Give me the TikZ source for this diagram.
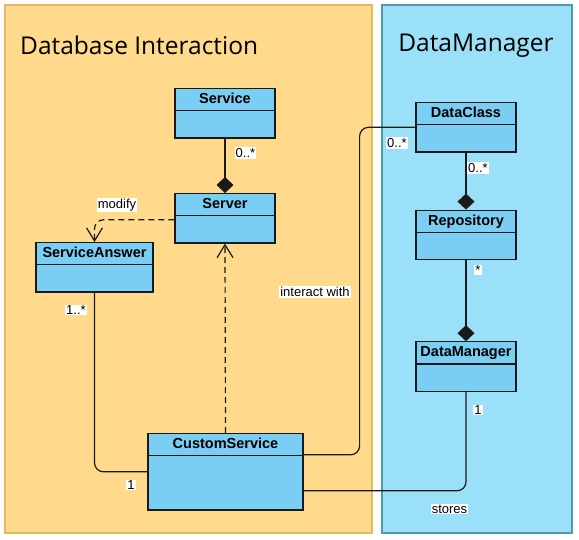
\documentclass[tikz,border=0pt]{standalone}
\usepackage{fontspec}
\setmainfont{Liberation Sans}
\newfontfamily\titlefont{Open Sans}
\usetikzlibrary{shapes.multipart,arrows.meta,positioning}

\definecolor{dbfill}{HTML}{FFD98C}
\definecolor{dbline}{HTML}{E3B95A}
\definecolor{dmfill}{HTML}{9AE0F8}
\definecolor{dmline}{HTML}{4D9AB5}
\definecolor{clsfill}{HTML}{7ACEF4}
\definecolor{clsline}{HTML}{1A1A1A}

\newcommand\clshead{\rule[-6.5pt]{0pt}{21pt}}
\newcommand\clsbody[1][26pt]{\rule{0pt}{#1}}

\begin{document}
\begin{tikzpicture}[x=1pt, y=-1pt,
  class/.style={rectangle split, rectangle split parts=2, draw=clsline,
    fill=clsfill, line width=1.2pt, inner xsep=0pt, inner ysep=0pt,
    text width=#1, align=center, anchor=north,
    font=\fontsize{14.5}{16}\selectfont\bfseries},
  mult/.style={fill=white, inner sep=1pt, font=\fontsize{13}{15}\selectfont},
  assoc/.style={draw=clsline, line width=1.2pt, rounded corners=9pt},
  comp/.style={assoc, {Diamond[length=16pt,width=17pt]}-},
  dep/.style={assoc, dash pattern=on 6pt off 4pt,
    -{Straight Barb[length=13pt,width=16pt]}}]

  \useasboundingbox (0,0) rectangle (579,540);

  % containers
  \draw[fill=dbfill, draw=dbline, line width=1.2pt] (5,5) rectangle (372,533);
  \draw[fill=dmfill, draw=dmline, line width=1.2pt] (382,5) rectangle (572,533);
  \node[anchor=base west, inner sep=0pt,
    font=\titlefont\fontsize{24.5}{28}\selectfont] (dbtitle) at (20,55) {Database Interaction};
  \node[anchor=base, inner sep=0pt,
    font=\titlefont\fontsize{24.5}{28}\selectfont] (dmtitle) at (476,52) {DataManager};

  % classes
  \node[class=100pt] (service) at (225,88) {\clshead Service\nodepart{two}\clsbody};
  \node[class=100pt] (server) at (225,193) {\clshead Server\nodepart{two}\clsbody};
  \node[class=117pt] (answer) at (94.5,242) {\clshead ServiceAnswer\nodepart{two}\clsbody};
  \node[class=155pt] (custom) at (225.5,433) {\clshead CustomService\nodepart{two}\clsbody[53pt]};

  \node[class=100pt] (dataclass) at (466,102) {\clshead DataClass\nodepart{two}\clsbody};
  \node[class=100pt, below=57pt of dataclass.south, anchor=north] (repo) {\clshead Repository\nodepart{two}\clsbody};
  \node[class=100pt, below=81pt of repo.south, anchor=north] (dm) {\clshead DataManager\nodepart{two}\clsbody};

  % connectors
  \draw[comp] (server.north) -- (service.south);
  \draw[dep] ([yshift=-4pt]server.text split west) -| (answer.north);
  \draw[dep] (custom.north) -- (server.south);
  \draw[assoc] (answer.south) |- (custom.west);
  \draw[assoc] ([yshift=1pt]custom.text split east) -- ++(56,0) |- (dataclass.west);
  \draw[comp] (repo.north) -- (dataclass.south);
  \draw[comp] (dm.north) -- (repo.south);
  \draw[assoc] (dm.south) |- ([yshift=-19pt]custom.east);

  % labels
  \node[mult] (m1) at (245.5,153) {0..*};
  \node[mult] (m2) at (117,205) {modify};
  \node[mult] (m3) at (76,310) {1..*};
  \node[mult] (m4) at (131,485) {1};
  \node[mult] (m5) at (315,292) {interact with};
  \node[mult] (m6) at (397,143) {0..*};
  \node[mult] (m7) at (478,168) {0..*};
  \node[mult] (m8) at (478,270) {*};
  \node[mult] (m9) at (478,410) {1};
  \node[mult] (m10) at (449.5,509) {stores};

\end{tikzpicture}
\end{document}
